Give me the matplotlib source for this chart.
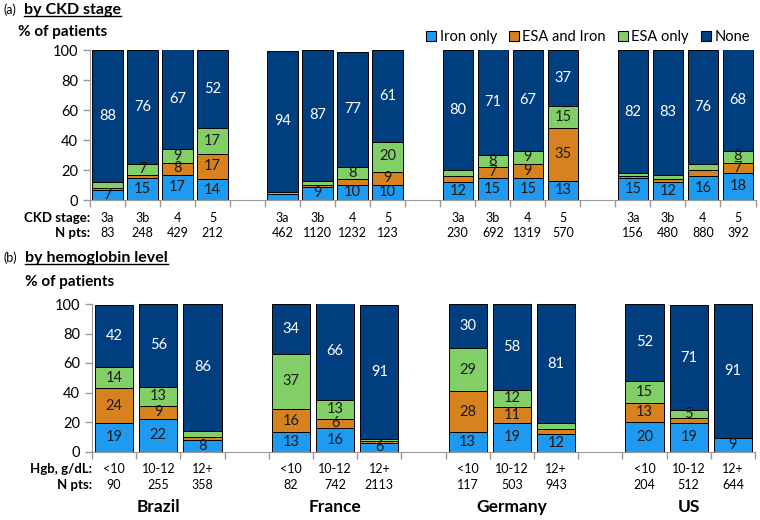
import numpy as np
import matplotlib
matplotlib.use("Agg")
import matplotlib.pyplot as plt
from matplotlib.patches import Patch
from matplotlib.lines import Line2D

plt.rcParams['font.family'] = ['Lato', 'DejaVu Sans']

countries = ['Brazil', 'France', 'Germany', 'US']
series_names = ['Iron only', 'ESA and Iron', 'ESA only', 'None']
colors = ['#1E9BF0', '#D8821F', '#83CF67', '#003F7F']

# (a) by CKD stage: one row per country, one column per stage
ckd_stages = ['3a', '3b', '4', '5']
ckd_npts = [[83, 248, 429, 212], [462, 1120, 1232, 123],
            [230, 692, 1319, 570], [156, 480, 880, 392]]
ckd_iron = [[7, 15, 17, 14], [4, 9, 10, 10], [12, 15, 15, 13], [15, 12, 16, 18]]
ckd_esa_iron = [[1, 2, 8, 17], [0.3, 1, 4, 9], [4, 7, 9, 35], [1, 2, 4, 7]]
ckd_esa = [[4, 7, 9, 17], [1.2, 3, 8, 20], [4, 8, 9, 15], [2, 3, 4, 8]]
ckd_none = [[88, 76, 67, 52], [94, 87, 77, 61], [80, 71, 67, 37], [82, 83, 76, 68]]

# (b) by hemoglobin level
hgb_levels = ['<10', '10-12', '12+']
hgb_npts = [[90, 255, 358], [82, 742, 2113], [117, 503, 943], [204, 512, 644]]
hgb_iron = [[19, 22, 8], [13, 16, 6], [13, 19, 12], [20, 19, 9]]
hgb_esa_iron = [[24, 9, 2], [16, 6, 1], [28, 11, 3], [13, 4, 0]]
hgb_esa = [[14, 13, 4], [37, 13, 1.5], [29, 12, 4], [15, 5, 0]]
hgb_none = [[42, 56, 86], [34, 66, 91], [30, 58, 81], [52, 71, 91]]

W, H = 760, 520
fig = plt.figure(figsize=(W / 100, H / 100), dpi=100)


def fx(px):
    return px / W


def fy(py):
    return 1 - py / H


def panel(ax, series, cats, npts, width, cat_title, ylab):
    per = len(cats)
    slot = per + 1
    pos = [g * slot + i for g in range(len(countries)) for i in range(per)]
    bottom = np.zeros(len(pos))
    for k, (vals, c) in enumerate(zip(series, colors)):
        v = np.array(vals, float).ravel()
        ax.bar(pos, v, width, bottom=bottom, color=c, edgecolor='black', linewidth=0.7)
        for x, b, h in zip(pos, bottom, v):
            if h >= 5:
                ax.text(x, b + h / 2, f'{h:g}', ha='center', va='center', fontsize=10.5,
                        color='white' if k == 3 else '#1a1a1a')
        bottom += v
    nslots = len(countries) * slot - 1
    ax.set_xlim(-0.5, nslots - 0.5)
    ax.set_ylim(0, 100)
    ax.set_yticks(range(0, 101, 20))
    ax.set_xticks(np.arange(-0.5, nslots))
    ax.set_xticklabels([])
    ax.tick_params(axis='both', colors='#999999', labelcolor='black', labelsize=10.5, length=5, width=1)
    for s in ['top', 'right']:
        ax.spines[s].set_visible(False)
    for s in ['left', 'bottom']:
        ax.spines[s].set_color('#999999')
    tr = ax.get_xaxis_transform()
    for g in range(len(countries)):
        for i in range(per):
            x = g * slot + i
            ax.text(x, ylab[0], cats[i], transform=tr, ha='center', va='center', fontsize=9)
            ax.text(x, ylab[1], str(npts[g][i]), transform=tr, ha='center', va='center', fontsize=9)
    ax.text(0, ylab[0], cat_title, transform=ax.transAxes, ha='right', va='center',
            fontsize=9.5, fontweight='bold')
    ax.text(0, ylab[1], 'N pts:', transform=ax.transAxes, ha='right', va='center',
            fontsize=9.5, fontweight='bold')
    return pos, slot


ax1 = fig.add_axes([fx(90), fy(200), fx(755.5) - fx(90), 150 / H])
panel(ax1, [ckd_iron, ckd_esa_iron, ckd_esa, ckd_none], ckd_stages, ckd_npts, 0.87,
      'CKD stage:', (-18 / 150, -33 / 150))

ax2 = fig.add_axes([fx(92), fy(451.5), fx(755) - fx(92), 147.5 / H])
pos, slot = panel(ax2, [hgb_iron, hgb_esa_iron, hgb_esa, hgb_none], hgb_levels, hgb_npts, 0.86,
                  'Hgb, g/dL:', (-17.5 / 147.5, -33.5 / 147.5))
for g, name in enumerate(countries):
    ax2.text(g * slot + 1, -55.5 / 147.5, name, transform=ax2.get_xaxis_transform(),
             ha='center', va='center', fontsize=12.5, fontweight='bold')

# panel titles
fig.text(fx(4), fy(10), '(a)', fontsize=9, va='center')
ta = fig.text(fx(24), fy(10), 'by CKD stage', fontsize=11.5, fontweight='bold', va='center')
fig.text(fx(18), fy(32), '% of patients', fontsize=11, fontweight='bold', va='center')
fig.text(fx(3), fy(258), '(b)', fontsize=9, va='center')
tb = fig.text(fx(25), fy(258), 'by hemoglobin level', fontsize=11.5, fontweight='bold', va='center')
fig.text(fx(25), fy(282), '% of patients', fontsize=11, fontweight='bold', va='center')

fig.canvas.draw()
for t in (ta, tb):
    bb = t.get_window_extent()
    yl = bb.y0 + 1
    fig.add_artist(Line2D([bb.x0 / W, bb.x1 / W], [yl / H, yl / H], color='black', lw=1))

handles = [Patch(facecolor=c, edgecolor='black', linewidth=0.8) for c in colors]
fig.legend(handles, series_names, loc='center right', bbox_to_anchor=(fx(750), fy(37)),
           ncol=4, frameon=False, fontsize=10.5, handlelength=0.7, handleheight=0.7,
           handletextpad=0.25, columnspacing=0.8, borderpad=0, borderaxespad=0)

fig.savefig('out.png', dpi=100)
